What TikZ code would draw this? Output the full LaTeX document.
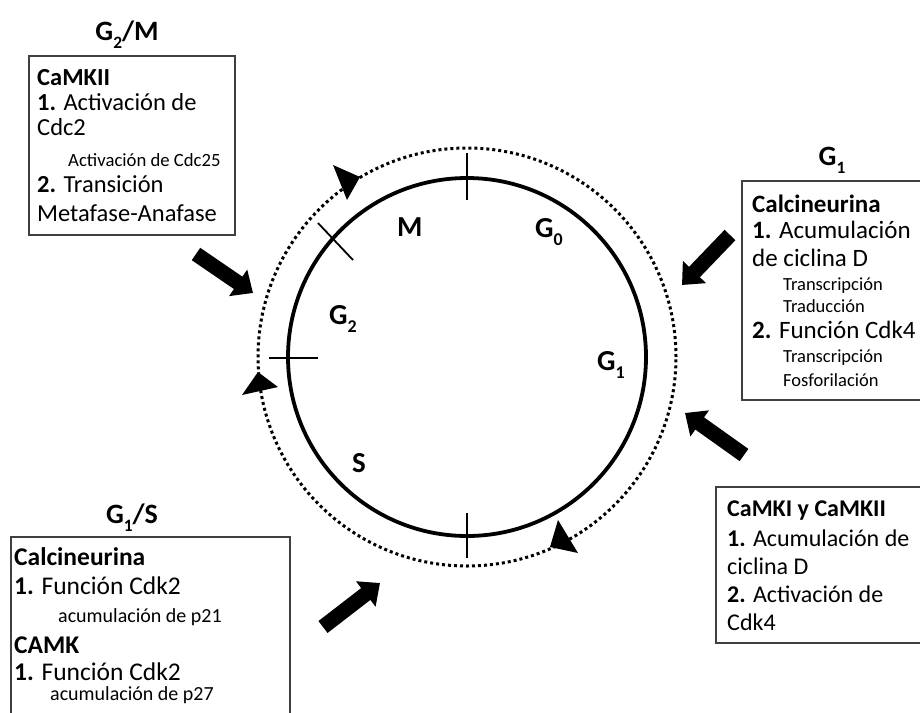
\documentclass[tikz,border=0pt]{standalone}
\usepackage{fontspec}
\setmainfont{Carlito}
\usetikzlibrary{arrows.meta}
\newcommand{\lsub}[1]{\raisebox{-0.3em}{\fontsize{0.62em}{1em}\selectfont #1}}
\begin{document}
\begin{tikzpicture}[x=1pt,y=-1pt,
  bigtxt/.style={font=\fontsize{24.5}{26}\selectfont, anchor=base west, inner sep=0pt},
  smalltxt/.style={font=\fontsize{18.7}{20}\selectfont, anchor=base west, inner sep=0pt},
  bigtxtr/.style={bigtxt, font=\fontsize{25}{27}\selectfont},
  smalltxtr/.style={smalltxt, font=\fontsize{18.5}{20}\selectfont},
  bigtxtc/.style={bigtxt, font=\fontsize{24}{26}\selectfont},
  bigtxtb/.style={bigtxt, font=\fontsize{25.5}{28}\selectfont},
  smalltxtb/.style={smalltxt, font=\fontsize{20}{22}\selectfont},
  titletxt/.style={font=\bfseries\fontsize{28}{30}\selectfont, anchor=base, inner sep=0pt},
  phasetxt/.style={font=\bfseries\fontsize{29}{32}\selectfont, anchor=base west, inner sep=0pt},
  infobox/.style={draw=black!75, line width=1.2pt},
  blockarrow/.style={line width=15pt, -{Triangle[length=18pt,width=31pt]}},
  tick/.style={line width=1.8pt},
  headtri/.style={fill=black}
]
\useasboundingbox[fill=white] (0,0) rectangle (920,712);

% cycle
\coordinate (cc) at (467,357);
\draw[line width=3.8pt] (cc) circle[radius=179pt];
\draw[line width=3pt, dash pattern=on 3pt off 3pt] (cc) circle[radius=209pt];

% ticks
\coordinate (tt1) at (467,153); \coordinate (tt2) at (467,200);
\coordinate (tb1) at (467,513); \coordinate (tb2) at (467,558);
\coordinate (tl1) at (269,358); \coordinate (tl2) at (318,358);
\coordinate (td1) at (318,223); \coordinate (td2) at (353,260);
\draw[tick] (tt1) -- (tt2);
\draw[tick] (tb1) -- (tb2);
\draw[tick] (tl1) -- (tl2);
\draw[tick] (td1) -- (td2);

% arrowheads on dotted circle
\fill[headtri] (333,165) -- (360,177) -- (347,200) -- cycle;
\fill[headtri] (258,372) -- (242,395) -- (278,387) -- cycle;
\fill[headtri] (558,520) -- (550,547) -- (578,553) -- cycle;

% phase labels
\node[phasetxt] (pM) at (397,236) {M};
\node[phasetxt] (pG0) at (535,237) {G\lsub{0}};
\node[phasetxt] (pG2) at (329,324) {G\lsub{2}};
\node[phasetxt] (pG1) at (597,370) {G\lsub{1}};
\node[phasetxt] (pS) at (352,472) {S};

% titles
\node[titletxt] (tG2M) at (127,40) {G\lsub{2}/M};
\node[titletxt] (tG1) at (832,165) {G\lsub{1}};
\node[titletxt] (tG1S) at (132,523) {G\lsub{1}/S};

% box 1
\draw[infobox] (29,56) rectangle (235,235);
\node[bigtxt] (a1) at (37,85) {\textbf{CaMKII}};
\node[bigtxt] (a2) at (37,110) {\textbf{1.} Activación de};
\node[bigtxt] (a3) at (37,135) {Cdc2};
\node[smalltxt] (a4) at (68,166) {Activación de Cdc25};
\node[bigtxt] (a5) at (37,192) {\textbf{2.} Transición};
\node[bigtxt] (a6) at (37,221) {Metafase-Anafase};

% box 2
\draw[infobox] (921,181) -- (742,181) -- (742,400) -- (921,400);
\node[bigtxtr] (b1) at (752,212) {\textbf{Calcineurina}};
\node[bigtxtr] (b2) at (752,238) {\textbf{1.} Acumulación};
\node[bigtxtr] (b3) at (752,266) {de ciclina D};
\node[smalltxtr] (b4) at (783,290) {Transcripción};
\node[smalltxtr] (b5) at (783,312) {Traducción};
\node[bigtxtr] (b6) at (752,338) {\textbf{2.} Función Cdk4};
\node[smalltxtr] (b7) at (783,362) {Transcripción};
\node[smalltxtr] (b8) at (783,386) {Fosforilación};

% box 3
\draw[infobox] (921,487) -- (716,487) -- (716,643) -- (921,643);
\node[bigtxtc] (c1) at (727,516) {\textbf{CaMKI y CaMKII}};
\node[bigtxtc] (c2) at (727,546) {\textbf{1.} Acumulación de};
\node[bigtxtc] (c3) at (727,574) {ciclina D};
\node[bigtxtc] (c4) at (727,602) {\textbf{2.} Activación de};
\node[bigtxtc] (c5) at (727,630) {Cdk4};

% box 4
\draw[infobox] (11,713) -- (11,537) -- (290,537) -- (290,713);
\node[bigtxtb] (d1) at (14,565) {\textbf{Calcineurina}};
\node[bigtxtb] (d2) at (14,594) {\textbf{1.} Función Cdk2};
\node[smalltxtb] (d3) at (58,622) {acumulación de p21};
\node[bigtxtb] (d4) at (14,653) {\textbf{CAMK}};
\node[bigtxtb] (d5) at (14,680) {\textbf{1.} Función Cdk2};
\node[smalltxtb] (d6) at (50,700) {acumulación de p27};

% block arrows
\coordinate (ar1s) at (196,254); \coordinate (ar1e) at (253,293);
\coordinate (ar2s) at (730,235); \coordinate (ar2e) at (682,285);
\coordinate (ar3s) at (744,455); \coordinate (ar3e) at (685,413);
\coordinate (ar4s) at (323,627); \coordinate (ar4e) at (380,583);
\draw[blockarrow] (ar1s) -- (ar1e);
\draw[blockarrow] (ar2s) -- (ar2e);
\draw[blockarrow] (ar3s) -- (ar3e);
\draw[blockarrow] (ar4s) -- (ar4e);
\end{tikzpicture}
\end{document}
